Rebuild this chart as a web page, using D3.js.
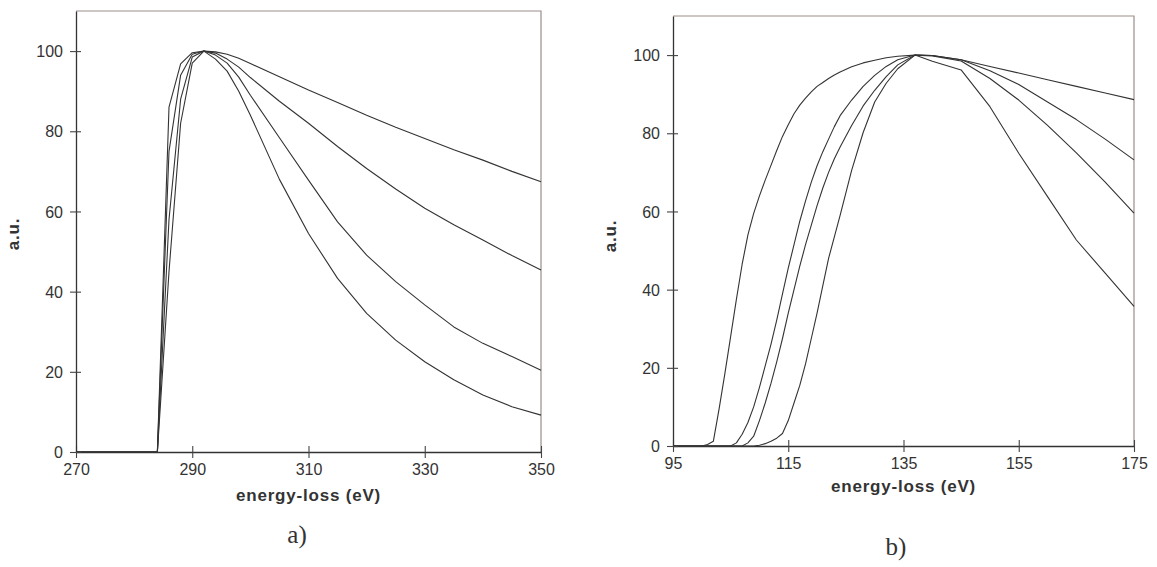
<!DOCTYPE html>
<html><head><meta charset="utf-8">
<script src="https://cdn.jsdelivr.net/npm/d3@7"></script>
<style>
html,body{margin:0;padding:0;background:#fff;}
svg{display:block;}
text{font-family:"Liberation Sans",Arial,Helvetica,sans-serif;fill:#333;}
</style></head>
<body>
<svg id="chart" width="1157" height="567"></svg>
<script>
// ---------- panel a) data ----------
const energyA = [270,272,274,276,278,280,282,284,286,288,290,292,294,296,298,300,305,310,315,320,325,330,335,340,345,350];
const a1 = [0,0,0,0,0,0,0,0,86,96.8,99.6,100,99.8,99.2,98.2,96.9,93.6,90.3,87.2,84,81,78.2,75.4,72.8,70,67.4];
const a2 = [0,0,0,0,0,0,0,0,75,94,99.2,100,99.5,98,96,93.4,87.5,82,76.2,70.7,65.6,60.8,56.7,52.9,49,45.4];
const a3 = [0,0,0,0,0,0,0,0,58,88,98.5,100,99,97,93.5,89,78.4,67.8,57.4,49.1,42.5,36.7,31.2,27.1,23.8,20.4];
const a4 = [0,0,0,0,0,0,0,0,45,82,97,100,98,95,90,84,68,54.5,43.3,34.6,27.9,22.5,18,14.2,11.3,9.2];
const xTicksA = [270,290,310,330,350];

// ---------- panel b) data ----------
const energyB = [95,100,101,102,103,104,105,106,107,108,109,110,111,112,113,114,115,116,117,118,119,120,121,122,123,124,126,128,130,132,134,137,140,145,150,155,160,165,170,175];
const b1 = [0,0,0.4,1.2,9.5,18.5,28,37.5,46.5,54,59.5,64,68,71.8,75.6,79.2,82.2,85,87.2,89,90.6,92,93,94,94.9,95.7,97,98,98.7,99.3,99.7,100,99.9,98.8,97.1,95.4,93.7,92,90.3,88.6];
const b2 = [0,0,0,0,0,0,0,0.8,3,6,10,15,20.5,26,32.2,38.9,45.5,51.5,57.5,62.7,67.5,71.7,75.3,78.5,81.7,84.5,88.5,92,94.8,97.1,98.8,100,99.9,98.8,96,92.5,88,83.5,78.5,73.2];
const b3 = [0,0,0,0,0,0,0,0,0,0.8,2.5,6.5,11,16,21.5,27.5,34,40,46,51.5,56.5,61.5,66,70,73.5,76.5,82,87,91,94.5,97.5,100,99.8,98.5,94,88.5,82,75,67.5,59.6];
const b4 = [0,0,0,0,0,0,0,0,0,0,0,0.2,0.6,1.2,2,3.2,6.5,11,15.5,21,27.5,34,41,48,53.5,59,70.5,80.2,88,92.8,96.5,100,98.4,96.2,86.8,74.9,63.8,52.7,44.2,35.7];
const xTicksB = [95,115,135,155,175];

const yTicks = [0,20,40,60,80,100];
const yDomain = [0,110];
const xLabel = "energy-loss (eV)";
const yLabel = "a.u.";

const svg = d3.select("#chart");

function panel(cfg){
  const g = svg.append("g");
  const x = d3.scaleLinear().domain(cfg.xDomain).range([cfg.left, cfg.right]);
  const y = d3.scaleLinear().domain(yDomain).range([cfg.bottom, cfg.top]);

  // frame (top & right)
  g.append("path")
    .attr("d", `M${cfg.left},${cfg.top}H${cfg.right}V${cfg.bottom}`)
    .attr("fill","none").attr("stroke","#9b8e8b").attr("stroke-width",1.2);

  // lines
  const line = d3.line().x((d,i)=>x(cfg.energy[i])).y(d=>y(d));
  cfg.series.forEach(s=>{
    g.append("path").datum(s).attr("d", line)
      .attr("fill","none").attr("stroke","#333").attr("stroke-width",1.1)
      .attr("stroke-linejoin","round");
  });

  // x axis
  const xa = g.append("g").attr("transform",`translate(0,${cfg.bottom})`)
    .call(d3.axisBottom(x).tickValues(cfg.xTicks).tickSize(0).tickFormat(d3.format("d")));
  xa.select(".domain").attr("stroke","#333").attr("stroke-width",1.3);
  xa.selectAll(".tick line").remove();
  xa.selectAll(".tick").append("line").attr("y1",-6).attr("y2",6).attr("stroke","#444").attr("stroke-width",1.1);
  xa.selectAll(".tick text").attr("dy",null).attr("y",cfg.xLabY).attr("font-size",16)
    .attr("font-family","Liberation Sans, Arial, sans-serif").attr("fill","#333");

  // y axis
  const ya = g.append("g").attr("transform",`translate(${cfg.left},0)`)
    .call(d3.axisLeft(y).tickValues(yTicks).tickSize(0));
  ya.select(".domain").attr("stroke","#333").attr("stroke-width",1.3);
  ya.selectAll(".tick line").remove();
  ya.selectAll(".tick").append("line").attr("x1",-6).attr("x2",5).attr("stroke","#444").attr("stroke-width",1.1);
  ya.selectAll(".tick text").attr("x",-13).attr("dy","0.35em").attr("font-size",16)
    .attr("font-family","Liberation Sans, Arial, sans-serif").attr("fill","#333");

  // axis titles
  g.append("text").attr("x",(cfg.left+cfg.right)/2).attr("y",cfg.titleY)
    .attr("text-anchor","middle").attr("dominant-baseline","middle")
    .attr("font-weight","bold").attr("font-size",17).attr("letter-spacing",0.8).text(xLabel);
  g.append("text").attr("transform",`translate(${cfg.yTitleX},${cfg.yTitleY}) rotate(-90)`)
    .attr("text-anchor","middle").attr("dominant-baseline","middle")
    .attr("font-weight","bold").attr("font-size",17).attr("letter-spacing",0.8).text(yLabel);

  // caption
  g.append("text").attr("x",cfg.capX).attr("y",cfg.capY)
    .attr("text-anchor","middle").attr("dominant-baseline","middle")
    .style("font-family","'Liberation Serif','Times New Roman',serif").attr("font-size",25)
    .attr("fill","#222").text(cfg.caption);
}

panel({energy:energyA, series:[a1,a2,a3,a4], xDomain:[270,350], xTicks:xTicksA,
  left:76, right:541, top:11, bottom:452, xLabY:23, titleY:497, yTitleX:15, yTitleY:234,
  caption:"a)", capX:297, capY:537});
panel({energy:energyB, series:[b1,b2,b3,b4], xDomain:[95,175], xTicks:xTicksB,
  left:673, right:1134, top:16, bottom:446, xLabY:23, titleY:488, yTitleX:612, yTitleY:236,
  caption:"b)", capX:896, capY:549});
</script>
</body></html>
